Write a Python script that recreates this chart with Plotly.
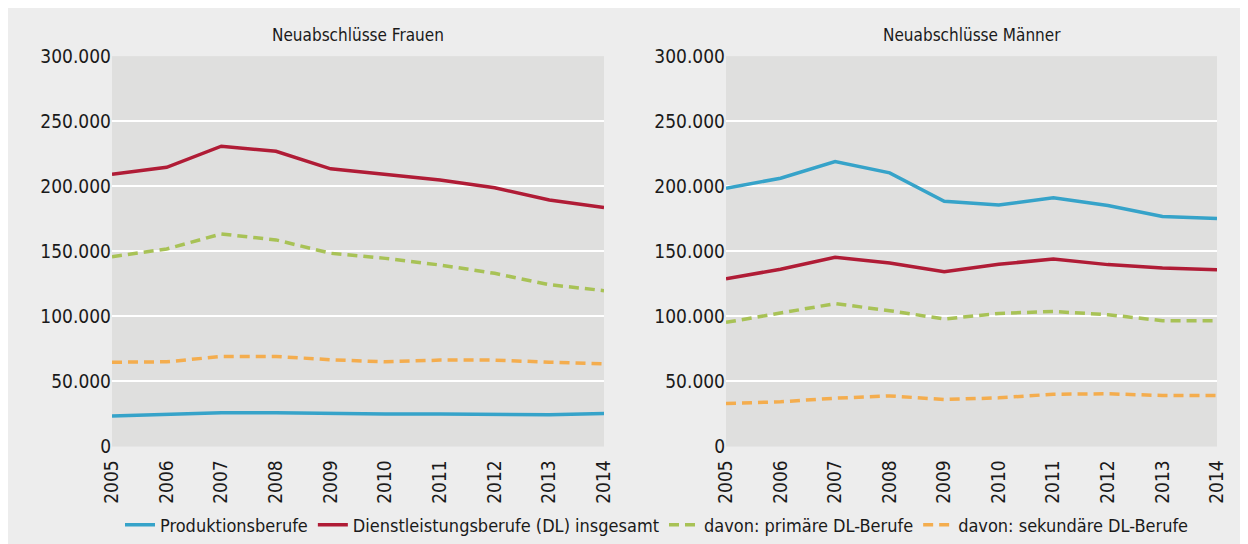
import plotly.graph_objects as go

years = [2005, 2006, 2007, 2008, 2009, 2010, 2011, 2012, 2013, 2014]

series_names = [
    "Produktionsberufe",
    "Dienstleistungsberufe (DL) insgesamt",
    "davon: primäre DL-Berufe",
    "davon: sekundäre DL-Berufe",
]

# Neuabschlüsse Frauen
frauen_produktion = [23500, 24500, 26000, 26000, 25300, 25000, 25000, 25000, 24500, 25300]
frauen_dl = [209200, 214600, 230800, 226900, 213400, 209200, 204900, 198800, 189500, 183600]
frauen_primaer = [145900, 151800, 163400, 158800, 148500, 144600, 139500, 133100, 124400, 119800]
frauen_sekundaer = [64800, 65100, 69200, 69200, 66700, 65100, 66400, 66400, 64800, 63600]

# Neuabschlüsse Männer
maenner_produktion = [198500, 206200, 219000, 210300, 188500, 185700, 191100, 185200, 176800, 175200]
maenner_dl = [129000, 136200, 145400, 141100, 134400, 140000, 144200, 139800, 137200, 135900]
maenner_primaer = [95400, 102800, 109800, 104400, 98000, 102300, 103800, 101300, 96700, 96700]
maenner_sekundaer = [33100, 34400, 37100, 38900, 36100, 37400, 40200, 40500, 39200, 39200]

y_ticks = [0, 50000, 100000, 150000, 200000, 250000, 300000]
panel_titles = ["Neuabschlüsse Frauen", "Neuabschlüsse Männer"]

colors = ["#36a3c9", "#b01c36", "#a8c256", "#f4ad4e"]
dashes = ["solid", "solid", "10px,6px", "10px,6px"]

# the page places the figure at (8, 8) because of the default body margin
OFF = 8
W, H = 1240, 536
FONT = "Liberation Sans Narrow, DejaVu Sans Condensed, sans-serif"

fig = go.Figure()

panels = [
    [frauen_produktion, frauen_dl, frauen_primaer, frauen_sekundaer],
    [maenner_produktion, maenner_dl, maenner_primaer, maenner_sekundaer],
]
axes = [("x", "y"), ("x2", "y2")]

for p, data in enumerate(panels):
    for i, vals in enumerate(data):
        fig.add_trace(go.Scatter(
            x=years, y=vals, mode="lines",
            name=series_names[i],
            legendgroup=series_names[i],
            showlegend=(p == 0),
            line=dict(color=colors[i], width=3.5, dash=dashes[i]),
            xaxis=axes[p][0], yaxis=axes[p][1],
            hoverinfo="skip",
        ))


def px_x(v):
    return (v - OFF) / W


def px_y(v):
    return (H - (v - OFF)) / H


left_dom = [px_x(112), px_x(604)]
right_dom = [px_x(726), px_x(1217)]
y_dom = [px_y(454), px_y(57)]

xaxis_common = dict(
    range=[2005, 2014], tickvals=years, ticktext=[str(y) for y in years],
    tickangle=-90, showgrid=False, zeroline=False, showline=False,
    ticks="", ticklabelstandoff=9,
    tickfont=dict(family=FONT, size=19, color="#1a1a1a"),
    fixedrange=True, automargin=False,
)
yaxis_common = dict(
    range=[0, 300000], tickvals=y_ticks, tickformat=",d",
    showgrid=True, gridcolor="#ffffff", gridwidth=1.5,
    zeroline=False, showline=False, ticks="",
    tickfont=dict(family=FONT, size=19, color="#1a1a1a"),
    fixedrange=True, automargin=False,
)

fig.update_layout(
    width=W, height=H, autosize=False,
    margin=dict(l=0, r=0, t=0, b=0, pad=0),
    paper_bgcolor="#ededed",
    plot_bgcolor="#dfdfde",
    separators=",.",
    font=dict(family=FONT, color="#1a1a1a"),
    xaxis=dict(domain=left_dom, anchor="y", **xaxis_common),
    yaxis=dict(domain=y_dom, anchor="x", **yaxis_common),
    xaxis2=dict(domain=right_dom, anchor="y2", **xaxis_common),
    yaxis2=dict(domain=y_dom, anchor="x2", **yaxis_common),
    legend=dict(
        orientation="h", x=px_x(657), xanchor="center", y=px_y(534), yanchor="middle",
        font=dict(family=FONT, size=18, color="#1a1a1a"),
        bgcolor="rgba(0,0,0,0)", itemwidth=30, tracegroupgap=0,
    ),
    annotations=[
        dict(text=panel_titles[0], xref="paper", yref="paper",
             x=px_x((112 + 604) / 2), y=px_y(35), showarrow=False,
             xanchor="center", yanchor="middle",
             font=dict(family=FONT, size=17, color="#1a1a1a")),
        dict(text=panel_titles[1], xref="paper", yref="paper",
             x=px_x((726 + 1217) / 2), y=px_y(35), showarrow=False,
             xanchor="center", yanchor="middle",
             font=dict(family=FONT, size=17, color="#1a1a1a")),
    ],
)

fig.write_html("out.html", config={"displayModeBar": False})
